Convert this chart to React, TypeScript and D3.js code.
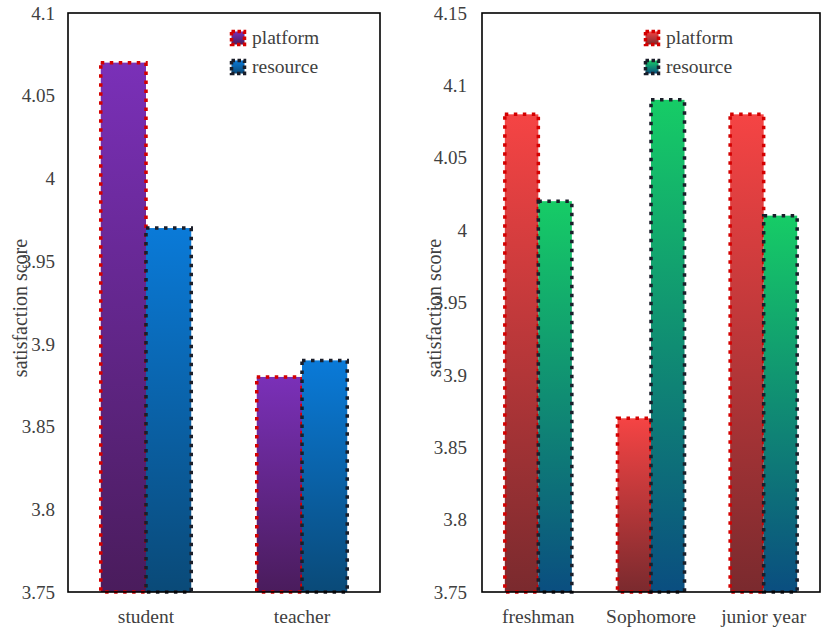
import React from "react";
import * as d3 from "d3";

const leftCategories = ["student", "teacher"];
const leftPlatform = [4.07, 3.88];
const leftResource = [3.97, 3.89];
const leftTicks = [3.75, 3.8, 3.85, 3.9, 3.95, 4, 4.05, 4.1];

const rightCategories = ["freshman", "Sophomore", "junior year"];
const rightPlatform = [4.08, 3.87, 4.08];
const rightResource = [4.02, 4.09, 4.01];
const rightTicks = [3.75, 3.8, 3.85, 3.9, 3.95, 4, 4.05, 4.1, 4.15];

const seriesNames = ["platform", "resource"];

const FONT = "Liberation Serif, serif";

interface PanelProps {
  id: string;
  left: number;
  right: number;
  categories: string[];
  platform: number[];
  resource: number[];
  ticks: number[];
  padding: number;
  fills: [string, string][];
  strokes: string[];
  legendX: number;
  labelX: number;
  tickGap: number;
}

const top = 13;
const bottom = 592;

const Panel: React.FC<PanelProps> = ({
  id, left, right, categories, platform, resource, ticks, padding, fills, strokes, legendX, labelX, tickGap,
}) => {
  const y = d3
    .scaleLinear()
    .domain([ticks[0], ticks[ticks.length - 1]])
    .range([bottom, top]);
  const x0 = d3
    .scaleBand<string>()
    .domain(categories)
    .range([left, right])
    .paddingInner(padding)
    .paddingOuter(padding / 2);
  const x1 = d3
    .scaleBand<string>()
    .domain(seriesNames)
    .range([0, x0.bandwidth()]);
  const values = [platform, resource];

  return (
    <g style={{ fontFamily: FONT }} fill="#404040">
      <defs>
        {fills.map((f, i) => (
          <linearGradient key={i} id={`${id}-g${i}`} x1="0" y1="0" x2="0" y2="1">
            <stop offset="0" stopColor={f[0]} />
            <stop offset="1" stopColor={f[1]} />
          </linearGradient>
        ))}
      </defs>
      {categories.map((c, ci) =>
        seriesNames.map((s, si) => {
          const v = values[si][ci];
          return (
            <rect
              key={c + s}
              x={(x0(c) ?? 0) + (x1(s) ?? 0)}
              y={y(v)}
              width={x1.bandwidth()}
              height={bottom - y(v)}
              fill={`url(#${id}-g${si})`}
              stroke={strokes[si]}
              strokeWidth={3.5}
              strokeDasharray="3.5 5.5"
            />
          );
        })
      )}
      <rect
        x={left}
        y={top}
        width={right - left}
        height={bottom - top}
        fill="none"
        stroke="#000"
        strokeWidth={1.6}
      />
      {ticks.map((t) => (
        <text key={t} x={left - tickGap} y={y(t)} dy="0.35em" textAnchor="end" fontSize={19}>
          {String(t)}
        </text>
      ))}
      {categories.map((c) => (
        <text
          key={c}
          x={(x0(c) ?? 0) + x0.bandwidth() / 2}
          y={623}
          textAnchor="middle"
          fontSize={19.5}
        >
          {c}
        </text>
      ))}
      <text
        transform={`translate(${labelX},308) rotate(-90)`}
        textAnchor="middle"
        fontSize={20}
      >
        satisfaction score
      </text>
      {seriesNames.map((s, si) => (
        <g key={s} transform={`translate(${legendX},${38 + si * 29})`}>
          <rect
            x={-6.5}
            y={-6.5}
            width={13}
            height={13}
            fill={`url(#${id}-g${si})`}
            stroke={strokes[si]}
            strokeWidth={3.5}
            strokeDasharray="3.5 2.5"
          />
          <text x={14} y={0} dy="0.32em" fontSize={19.5}>
            {s}
          </text>
        </g>
      ))}
    </g>
  );
};

export default function App() {
  return (
    <svg
      width={829}
      height={636}
      style={{ position: "absolute", left: 0, top: 0, background: "#fff" }}
    >
      <Panel
        id="l"
        left={68}
        right={380}
        categories={leftCategories}
        platform={leftPlatform}
        resource={leftResource}
        ticks={leftTicks}
        padding={0.42}
        fills={[
          ["#7a30b8", "#4a1c5c"],
          ["#0a7ad8", "#0a4a78"],
        ]}
        strokes={["#d40000", "#1a1e2a"]}
        legendX={238}
        labelX={27}
        tickGap={13}
      />
      <Panel
        id="r"
        left={482}
        right={820}
        categories={rightCategories}
        platform={rightPlatform}
        resource={rightResource}
        ticks={rightTicks}
        padding={0.405}
        fills={[
          ["#f54444", "#7a2a2e"],
          ["#16cc66", "#0a4e80"],
        ]}
        strokes={["#d40000", "#1a1e2a"]}
        legendX={652}
        labelX={441}
        tickGap={15}
      />
    </svg>
  );
}
